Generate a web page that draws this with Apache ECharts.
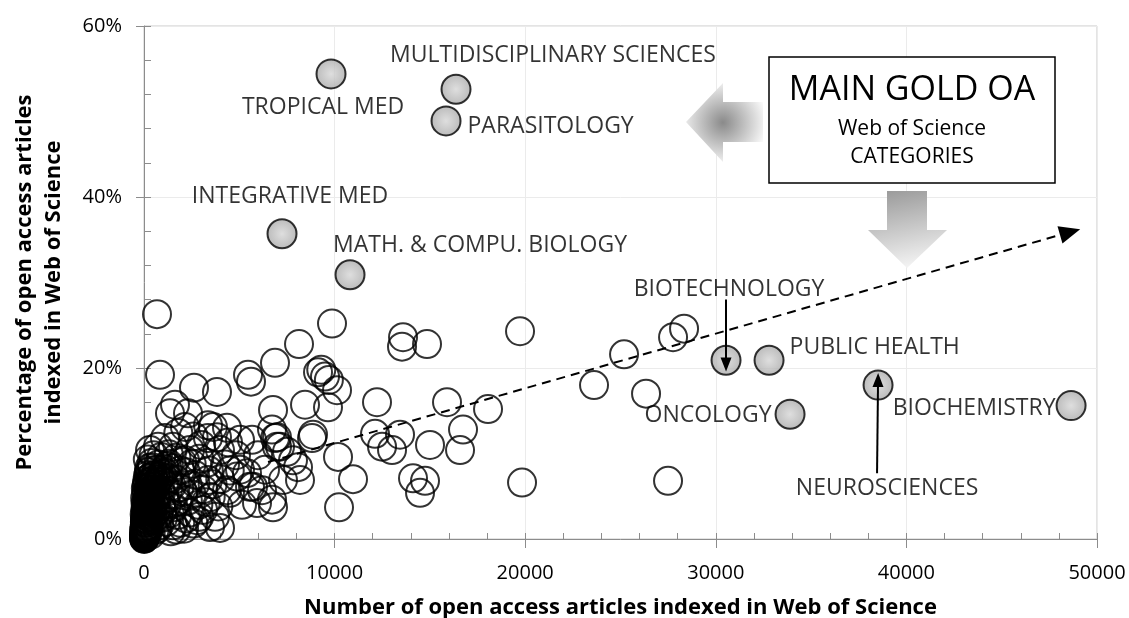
<!DOCTYPE html>
<html>
<head>
<meta charset="utf-8">
<script src="https://cdn.jsdelivr.net/npm/echarts@6/dist/echarts.min.js"></script>
<style>
html,body{margin:0;padding:0;background:#fff;}
#chart{width:1129px;height:618px;}
</style>
</head>
<body>
<div id="chart"></div>
<script>
// ---------- DATA ----------
const xTickValues = [0, 10000, 20000, 30000, 40000, 50000];
const yTickLabels = ['0%', '20%', '40%', '60%'];

const xTitle = 'Number of open access articles indexed in Web of Science';
const yTitle = 'Percentage of open access articles\nindexed in Web of Science';

// highlighted (main gold OA) categories
const goldNames = ['TROPICAL MED', 'MULTIDISCIPLINARY SCIENCES', 'PARASITOLOGY', 'INTEGRATIVE MED',
  'MATH. & COMPU. BIOLOGY', 'BIOTECHNOLOGY', 'PUBLIC HEALTH', 'ONCOLOGY', 'NEUROSCIENCES', 'BIOCHEMISTRY'];
const goldX = [9812, 16370, 15846, 7241, 10809, 30537, 32794, 33896, 38513, 48640];
const goldY = [54.4, 52.6, 48.9, 35.7, 30.9, 20.9, 20.9, 14.6, 18.0, 15.6];

// all other categories [articles, % OA]
const otherCategories = [
  [682,26.3],[840,19.2],[1627,15.7],[2623,17.7],[3830,17.2],[5457,19.2],[5614,18.4],[6873,20.6],
  [8133,22.8],[9864,25.2],[19729,24.3],[13590,23.6],[13537,22.5],[14849,22.8],[9130,19.5],[9497,19.0],
  [9300,19.8],[9700,18.6],[10127,17.4],[8448,15.7],[9654,15.4],[12225,16.0],[15898,16.0],[18050,15.2],
  [8815,11.8],[10179,9.6],[10966,7.0],[10232,3.7],[12120,12.3],[12488,10.8],[13013,10.4],[13432,12.2],
  [15006,11.0],[16738,12.8],[16581,10.4],[14114,7.1],[14744,6.8],[14482,5.4],[23611,18.0],[25186,21.6],
  [27757,23.6],[28334,24.6],[26340,17.0],[19834,6.6],[27494,6.8],
  [2309,14.7],[3620,13.1],[3358,11.8],[4407,11.3],[6769,15.1],[6874,11.8],[7136,10.8],[7503,10.2],
  [8080,8.4],[8867,12.2],[5404,7.7],[4355,5.7],[5142,4.0],[6769,3.7],[5719,6.1],[315,10.4],[735,10.8],
  [1522,10.8],[2414,10.4],[3463,1.4],[1364,14.7],[2151,13.1],[3358,13.3],[3830,11.9],[4355,13.0],
  [3988,10.4],[3306,8.9],[4880,7.3],[4512,5.4],[5562,6.1],[5929,4.2],[6716,4.6],[6978,10.8],[7818,9.2],
  [8185,6.9],[6978,11.9],[6716,12.8],[3725,2.6],[2781,2.2],[3988,1.3],[1522,1.6],[6349,8.1],[7293,6.9],
  [5981,9.8],[4827,9.8],[5037,8.1],[6191,5.7],[4250,8.7],[2676,7.5],[2151,9.2],[3358,6.9],[5037,11.6],
  [5667,11.6],
  [200,9.3],[500,9.8],[900,9.6],[1300,9.9],[1700,9.5],[2000,9.0],[2500,8.8],[2900,9.4],[1100,11.8],
  [1800,12.4],[2600,12.0],[3000,11.0],[400,8.9],[1500,8.3],[2200,7.8],[2700,6.5],[3100,5.8],[3500,4.9],
  [3900,3.8],[2400,3.1],[2900,2.6],[1900,1.9],[2300,4.5],[1600,5.2],[1200,4.0],[1000,2.5],[700,1.2],
  [1400,0.9],[2100,1.2],[3100,3.4],[3600,6.4],[4000,7.0],[4500,8.0],[3400,8.0],
  [20,0.1],[40,0.3],[60,0.6],[90,0.9],[30,1.2],[120,1.5],[70,1.8],[150,2.1],[50,2.4],[180,2.7],
  [100,3.0],[220,3.3],[140,3.6],[260,3.9],[80,4.2],[300,4.5],[190,4.8],[350,5.1],[120,5.4],[400,5.7],
  [240,6.0],[460,6.3],[170,6.6],[520,6.9],[330,7.2],[600,7.5],[250,7.8],[680,8.1],[420,8.4],[760,8.7],
  [10,0.0],[15,0.4],[25,0.7],[35,1.0],[45,1.3],[55,1.6],[65,1.9],[75,2.2],[85,2.5],[95,2.8],
  [110,3.1],[130,3.4],[160,3.7],[200,4.0],[240,4.3],[280,4.6],[320,4.9],[370,5.2],[430,5.5],[490,5.8],
  [560,6.1],[630,6.4],[700,6.7],[780,7.0],[860,7.3],[940,7.6],[1020,7.9],[1100,8.2],[1200,8.5],[1300,8.8],
  [350,0.5],[550,1.0],[800,1.6],[950,3.3],[1150,2.0],[1350,3.0],[1550,3.7],[1750,4.4],[1850,6.0],[2050,5.5],
  [650,4.6],[850,5.6],[1050,6.4],[1250,7.1],[1450,6.2],[1650,7.0],[1900,8.0],[2300,6.3],[2500,5.2],[1750,2.8],
  [480,2.2],[620,3.2],[760,2.8],[900,4.0],[1080,4.8],[1250,5.6],[420,3.6],[580,4.9],[730,5.3],[300,6.5],
  [2600,1.8],[3250,4.3],[2850,4.0],[2200,2.4],[1700,1.1],
  [5,0.05],[12,0.2],[18,0.35],[28,0.15],[8,0.5],[22,0.8],[33,0.45],[44,0.25],[16,1.0],[38,0.65],
  [52,0.9],[27,1.4],[64,1.1],[78,0.7],[95,0.4],[115,0.8],[140,1.2],[170,0.6],[205,1.0],[240,1.6],
  [46,2.0],[88,1.4],[130,2.3],[175,1.9],[210,2.6],[255,2.2],[290,2.9],[330,2.5],[380,3.1],[440,2.7],
  [36,2.9],[72,3.4],[118,4.0],[160,4.5],[205,5.0],[245,5.6],[290,5.3],[340,6.1],[395,6.8],[455,7.4],
  [62,4.8],[98,5.9],[140,6.3],[185,7.0],[225,7.5],[275,8.3],[320,8.0],[510,4.2],[580,3.8],[650,2.3]
];

// annotation arrows (data coordinates)
const trendStart = [6506, 9.0];
const trendEnd = [48587, 35.9];
const biotechArrow = [[30537, 28.0], [30537, 20.4]];
const neuroArrow = [[38460, 7.7], [38513, 18.6]];

// ---------- STYLE ----------
const FONT = 'Open Sans';
const labelStyles = [
  {position: 'inside', offset: [-8, 34]},
  {position: 'inside', offset: [97, -34]},
  {position: 'right', distance: 6, offset: [0, 6]},
  {position: 'inside', offset: [8, -37]},
  {position: 'inside', offset: [130, -29]},
  {position: 'inside', offset: [3, -71]},
  {position: 'right', distance: 5, offset: [0, -13]},
  {position: 'left', distance: 3, offset: [0, 1]},
  {position: 'inside', offset: [9, 103]},
  {position: 'left', distance: 0, offset: [0, 3]}
];

const goldData = goldNames.map((n, i) => ({
  name: n,
  value: [goldX[i], goldY[i]],
  label: Object.assign({show: true, formatter: '{b}', color: '#000', fontFamily: FONT, fontSize: 23}, labelStyles[i])
}));

const chart = echarts.init(document.getElementById('chart'), null, {renderer: 'canvas'});

const axisFont = {fontFamily: FONT, fontSize: 20, color: '#000'};

chart.setOption({
  animation: false,
  backgroundColor: '#fff',
  grid: {left: 144, top: 26, right: 32, bottom: 79, show: true, borderColor: '#c8c8c8', borderWidth: 1,
         containLabel: false, outerBoundsMode: 'none'},
  xAxis: [{
    type: 'value', min: xTickValues[0], max: xTickValues[xTickValues.length - 1], interval: 10000,
    axisLine: {show: true, lineStyle: {color: '#8c8c8c', width: 1}},
    axisTick: {show: true, inside: false, length: 9, lineStyle: {color: '#8c8c8c'}},
    axisLabel: Object.assign({margin: 24, formatter: v => String(v)}, axisFont),
    splitLine: {show: true, lineStyle: {color: '#ebebeb', width: 1}},
    name: xTitle, nameLocation: 'middle', nameGap: 58,
    nameTextStyle: {fontFamily: FONT, fontSize: 22, fontWeight: 'bold', color: '#000'}
  }, {
    type: 'value', min: 0, max: 50000, interval: 2000, position: 'bottom',
    axisLine: {show: false}, axisLabel: {show: false}, splitLine: {show: false},
    axisTick: {show: true, inside: true, length: 6, lineStyle: {color: '#8c8c8c'}}
  }],
  yAxis: [{
    type: 'value', min: 0, max: 60, interval: 20,
    axisLine: {show: true, lineStyle: {color: '#8c8c8c', width: 1}},
    axisTick: {show: true, inside: false, length: 8, lineStyle: {color: '#8c8c8c'}},
    axisLabel: Object.assign({margin: 22, formatter: v => yTickLabels[Math.round(v / 20)]}, axisFont),
    splitLine: {show: true, lineStyle: {color: '#ebebeb', width: 1}},
    name: yTitle, nameLocation: 'middle', nameGap: 76, nameRotate: 90,
    nameTextStyle: {fontFamily: FONT, fontSize: 22, fontWeight: 'bold', color: '#000', lineHeight: 29, align: 'center'}
  }, {
    type: 'value', min: 0, max: 60, interval: 4, position: 'left',
    axisLine: {show: false}, axisLabel: {show: false}, splitLine: {show: false},
    axisTick: {show: true, inside: true, length: 7, lineStyle: {color: '#8c8c8c'}}
  }],
  series: [{
    type: 'scatter', xAxisIndex: 0, yAxisIndex: 0, z: 2,
    data: otherCategories,
    symbol: 'circle', symbolSize: 28,
    itemStyle: {color: 'rgba(255,255,255,0)', borderColor: '#000', borderWidth: 2},
    emphasis: {disabled: true}
  }, {
    type: 'scatter', xAxisIndex: 0, yAxisIndex: 0, z: 3,
    data: goldData,
    symbol: 'circle', symbolSize: 29,
    itemStyle: {
      color: {type: 'radial', x: 0.5, y: 0.5, r: 0.5, colorStops: [{offset: 0, color: '#d6d6d6'}, {offset: 1, color: '#a9a9a9'}]},
      borderColor: '#000', borderWidth: 2
    },
    emphasis: {disabled: true},
    markLine: {
      silent: true, animation: false, z: 6,
      label: {show: false},
      data: [
        [{coord: trendStart, symbol: 'none', lineStyle: {type: [9, 6], width: 2, color: '#000'}},
         {coord: trendEnd, symbol: 'triangle', symbolSize: [18, 21]}],
        [{coord: biotechArrow[0], symbol: 'none', lineStyle: {type: 'solid', width: 2, color: '#000'}},
         {coord: biotechArrow[1], symbol: 'triangle', symbolSize: [11, 14]}],
        [{coord: neuroArrow[0], symbol: 'none', lineStyle: {type: 'solid', width: 2, color: '#000'}},
         {coord: neuroArrow[1], symbol: 'triangle', symbolSize: [11, 14]}]
      ],
      lineStyle: {color: '#000', width: 2},
      itemStyle: {color: '#000'}
    }
  }],
  graphic: [
    {type: 'polygon', z: 10, shape: {points: [[686,122],[723,83],[723,102],[763,102],[763,142],[723,142],[723,162]]},
     style: {fill: {type: 'radial', x: 0.48, y: 0.5, r: 0.6, colorStops: [{offset: 0, color: '#8a8a8a'}, {offset: 1, color: '#ffffff'}]}}},
    {type: 'polygon', z: 10, shape: {points: [[887,191],[927,191],[927,230],[947,230],[907,268],[868,230],[887,230]]},
     style: {fill: {type: 'linear', x: 0.3, y: 0, x2: 0.5, y2: 1, colorStops: [{offset: 0, color: '#9c9c9c'}, {offset: 1, color: '#f4f4f4'}]}}},
    {type: 'rect', z: 10, shape: {x: 769, y: 57, width: 286, height: 126},
     style: {fill: '#fff', stroke: '#000', lineWidth: 1.5}},
    {type: 'text', z: 11, x: 912, y: 90, style: {text: 'MAIN GOLD OA', fontFamily: FONT, fontSize: 34, fill: '#000', align: 'center', verticalAlign: 'middle'}},
    {type: 'text', z: 11, x: 912, y: 129, style: {text: 'Web of Science', fontFamily: FONT, fontSize: 21, fill: '#000', align: 'center', verticalAlign: 'middle'}},
    {type: 'text', z: 11, x: 912, y: 157, style: {text: 'CATEGORIES', fontFamily: FONT, fontSize: 21, fill: '#000', align: 'center', verticalAlign: 'middle'}}
  ]
});
</script>
</body>
</html>
